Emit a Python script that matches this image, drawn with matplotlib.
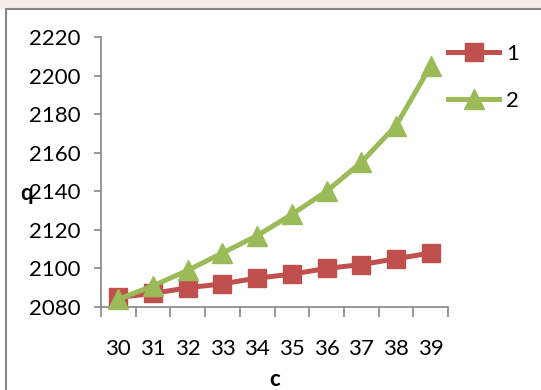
import matplotlib.pyplot as plt
from matplotlib.patches import Rectangle

c_values = [30, 31, 32, 33, 34, 35, 36, 37, 38, 39]
q_series1 = [2085, 2087, 2090, 2092, 2095, 2097, 2100, 2102, 2105, 2108]
q_series2 = [2084, 2091, 2099, 2108, 2117, 2128, 2140, 2155, 2174, 2205]
y_ticks = [2080, 2100, 2120, 2140, 2160, 2180, 2200, 2220]
series_names = ["1", "2"]

RED = "#C0504D"
GREEN = "#9BBB59"
AXIS_GRAY = "#868686"

plt.rcParams["font.family"] = ["Lato", "DejaVu Sans"]

W, H = 541, 390
fig = plt.figure(figsize=(W / 100, H / 100), dpi=100)
fig.patch.set_facecolor("white")

# faint backdrop strip above the chart frame, then the frame itself
fig.patches.append(Rectangle((0, 1 - 9 / H), 1, 9 / H, transform=fig.transFigure,
                             facecolor="#F4EEE6", edgecolor="none", zorder=0))
fig.patches.append(Rectangle((6 / W, -0.05), 1.1, 1 - 9 / H + 0.05, transform=fig.transFigure,
                             facecolor="white", edgecolor=AXIS_GRAY, lw=1.5, zorder=1))

ax = fig.add_axes([101 / W, 1 - 307 / H, (448 - 101) / W, (307 - 37) / H])
ax.set_facecolor("none")
ax.set_zorder(2)

ax.plot(c_values, q_series1, color=RED, lw=3.6, marker="s", ms=12.5,
        label=series_names[0], clip_on=False, zorder=3)
ax.plot(c_values, q_series2, color=GREEN, lw=3.6, marker="^", ms=14,
        label=series_names[1], clip_on=False, zorder=4)

ax.set_xlim(29.5, 39.5)
ax.set_ylim(2080, 2220)
ax.set_yticks(y_ticks)
ax.set_xticks(c_values)
ax.set_xticks([x - 0.5 for x in c_values] + [39.5], minor=True)

for side in ["top", "right"]:
    ax.spines[side].set_visible(False)
for side in ["left", "bottom"]:
    ax.spines[side].set_color(AXIS_GRAY)
    ax.spines[side].set_linewidth(1.2)

ax.tick_params(axis="y", which="major", length=5, width=1.2, color=AXIS_GRAY,
               labelsize=16, pad=10)
ax.tick_params(axis="x", which="major", length=0, labelsize=16, pad=23)
ax.tick_params(axis="x", which="minor", length=7, width=1.2, color=AXIS_GRAY,
               direction="out")

fig.text(27 / W, 1 - 193 / H, "q", ha="center", va="center",
         fontsize=16, fontweight="bold")
fig.text(275 / W, 1 - 380 / H, "c", ha="center", va="center",
         fontsize=16, fontweight="bold")

leg = ax.legend(loc="upper left", bbox_to_anchor=(448 / W, 1 - 44 / H),
                bbox_transform=fig.transFigure, frameon=False, fontsize=16,
                handlelength=2.3, handletextpad=0.3, labelspacing=1.2,
                borderpad=0, borderaxespad=0)

fig.savefig("out.png", dpi=100)
